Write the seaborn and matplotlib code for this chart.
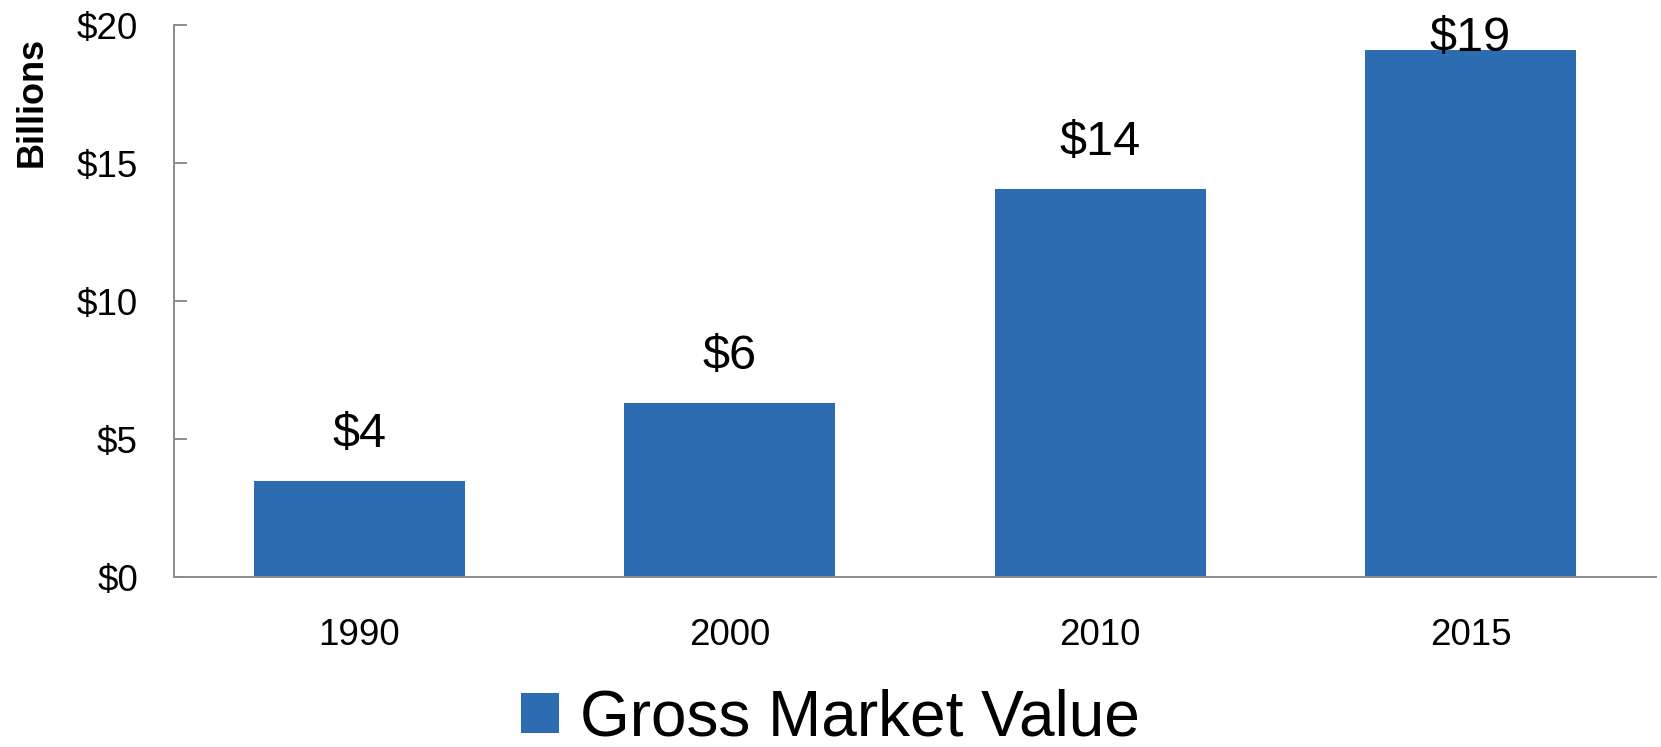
import matplotlib
matplotlib.use('Agg')
import matplotlib.pyplot as plt
import numpy as np
import pandas as pd
import seaborn as sns

years = ['1990', '2000', '2010', '2015']
values = [3.5, 6.3, 14.05, 19.1]
value_labels = ['$4', '$6', '$14', '$19']
series_name = 'Gross Market Value'
yticks = [0, 5, 10, 15, 20]
ytick_labels = ['$0', '$5', '$10', '$15', '$20']

bar_color = '#2E6CB2'
axis_color = '#8C8C8C'

sns.set_style('white')
plt.rcParams['font.family'] = ['Liberation Sans', 'DejaVu Sans']
plt.rcParams['text.color'] = 'black'
plt.rcParams['xtick.labelcolor'] = 'black'
plt.rcParams['ytick.labelcolor'] = 'black'

df = pd.DataFrame({'year': years, 'value': values, 'series': series_name})

fig = plt.figure(figsize=(16.61, 7.47), dpi=100)
ax = fig.add_axes([0.1048, 0.2272, 0.892, 0.7393])
sns.barplot(data=df, x='year', y='value', hue='series', palette=[bar_color],
            width=0.57, saturation=1, linewidth=0, ax=ax)

ax.set_xlim(-0.5, 3.5)
ax.set_ylim(0, 20)
ax.set_yticks(yticks)
ax.set_yticklabels(ytick_labels)
ax.set_xlabel('')
ax.set_ylabel('')

sns.despine(ax=ax)
for side in ['left', 'bottom']:
    ax.spines[side].set_color(axis_color)
    ax.spines[side].set_linewidth(1.4)

ax.tick_params(axis='y', direction='in', length=9, width=1.4, color=axis_color,
               labelsize=26.5, pad=26, left=True, labelcolor='black')
ax.tick_params(axis='x', length=0, labelsize=26.5, pad=29, labelcolor='black')

# value labels above bars, kept inside the plot on the tallest one
label_y = np.minimum(np.array(values) + 1.23, 19.05)
for i, (y, txt) in enumerate(zip(label_y, value_labels)):
    ax.text(i, y, txt, ha='center', va='baseline', fontsize=35, color='black')

fig.text(32 / 1661, 1 - 102 / 747, 'Billions', rotation=90, fontsize=26,
         fontweight='bold', ha='center', va='center', color='black')

sns.move_legend(ax, 'center', bbox_to_anchor=(0.5, 0.038),
                bbox_transform=fig.transFigure, title=None, frameon=False,
                fontsize=46, handlelength=0.58, handleheight=0.58,
                handletextpad=0.33, borderpad=0, labelcolor='black')

fig.savefig('out.png', dpi=100)
